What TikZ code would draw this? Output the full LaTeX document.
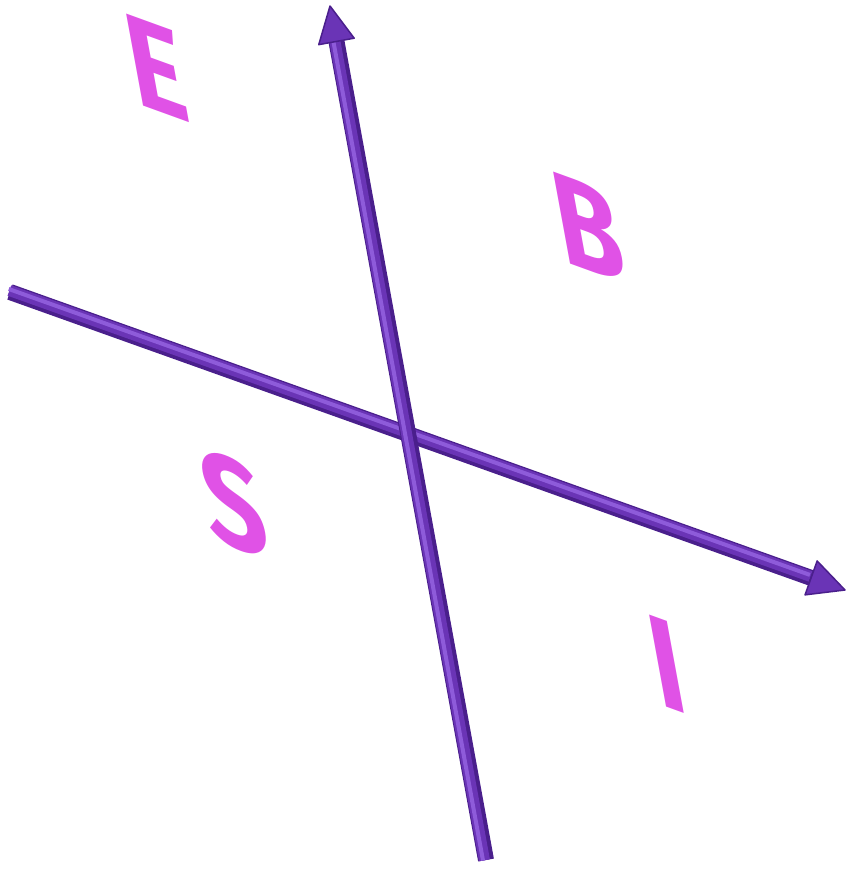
\documentclass[tikz,border=0pt]{standalone}
\usepackage{fontspec}
\setmainfont{Fira Sans}
\usetikzlibrary{calc}
\definecolor{axdark}{HTML}{4A1F8C}
\definecolor{axmid}{HTML}{6A34B6}
\definecolor{axlight}{HTML}{8E5BDA}
\definecolor{lettercol}{HTML}{E052E6}
\tikzset{
  shaftdark/.style={draw=axdark, line width=16pt, line cap=butt},
  shaftmid/.style={draw=axmid, line width=11pt, line cap=butt},
  shaftlight/.style={draw=axlight, line width=4pt, line cap=butt},
  headstyle/.style={fill=axmid, draw=axdark, line width=1.5pt, line join=round},
  letter/.style={text=lettercol, font=\bfseries\fontsize{135}{135}\selectfont, inner sep=0pt}
}
\begin{document}
\begin{tikzpicture}[x=1pt,y=-1pt]
\useasboundingbox (0,0) rectangle (846,871);
% endpoints
\coordinate (vbot) at (486,860);
\coordinate (vtop) at (330,6);
\coordinate (hleft) at (10,292);
\coordinate (hright) at (845,590);
\coordinate (vbase) at ($(vtop)!36pt!(vbot)$);
\coordinate (hbase) at ($(hright)!36pt!(hleft)$);
% horizontal axis
\draw[shaftdark] (hleft) -- (hbase);
\draw[shaftmid, transform canvas={shift={(-0.6pt,1.5pt)}}] (hleft) -- (hbase);
\draw[shaftlight, transform canvas={shift={(-1.2pt,3pt)}}] (hleft) -- (hbase);
\draw[headstyle] (hright) -- ($(hbase)!18pt!90:(hright)$) -- ($(hbase)!18pt!-90:(hright)$) -- cycle;
% vertical axis
\draw[shaftdark] (vbot) -- (vbase);
\draw[shaftmid, transform canvas={shift={(-1.5pt,-0.3pt)}}] (vbot) -- (vbase);
\draw[shaftlight, transform canvas={shift={(-3pt,-0.5pt)}}] (vbot) -- (vbase);
\draw[headstyle] (vtop) -- ($(vbase)!18pt!90:(vtop)$) -- ($(vbase)!18pt!-90:(vtop)$) -- cycle;
% letters in the skewed frame of the axes
\node[letter, cm={0.80,-0.29,-0.181,0.984,(156,68)}] (E) {E};
\node[letter, cm={0.80,-0.29,-0.181,0.984,(588,228)}] (B) {B};
\node[letter, cm={0.80,-0.29,-0.181,0.984,(234,504)}] (S) {S};
\node[letter, cm={0.80,-0.29,-0.181,0.984,(667,664)}] (I) {I};
\end{tikzpicture}
\end{document}
